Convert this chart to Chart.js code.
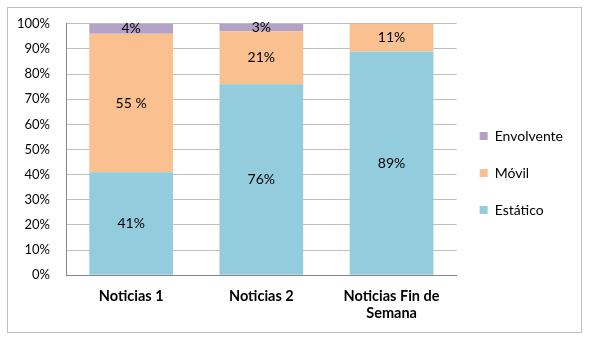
<!DOCTYPE html>
<html>
<head>
<meta charset="utf-8">
<script src="https://cdn.jsdelivr.net/npm/chart.js@4"></script>
<style>
  html, body { margin: 0; padding: 0; background: #fff; }
  #wrap { width: 590px; height: 340px; }
</style>
</head>
<body>
<div id="wrap"><canvas id="tipoGraficoChart" width="590" height="340"></canvas></div>
<script>
const categories = ["Noticias 1", "Noticias 2", ["Noticias Fin de", "Semana"]];
const estatico = [41, 76, 89];
const movil = [55, 21, 11];
const envolvente = [4, 3, 0];
const estaticoLabels = ["41%", "76%", "89%"];
const movilLabels = ["55 %", "21%", "11%"];
const envolventeLabels = ["4%", "3%", ""];
const yTicks = [0, 10, 20, 30, 40, 50, 60, 70, 80, 90, 100];

const fontFamily = "Lato, 'Open Sans', sans-serif";

// marco exterior del grafico
const framePlugin = {
    id: 'frame',
    beforeDraw(chart) {
        const ctx = chart.ctx;
        ctx.save();
        ctx.fillStyle = '#fff';
        ctx.fillRect(0, 0, chart.width, chart.height);
        ctx.strokeStyle = '#BFBFBF';
        ctx.lineWidth = 1;
        ctx.strokeRect(7.5, 7.5, 574, 325);
        ctx.restore();
    }
};

// etiquetas de valor en el centro de cada segmento
const valueLabelPlugin = {
    id: 'valueLabels',
    afterDatasetsDraw(chart) {
        const ctx = chart.ctx;
        ctx.save();
        ctx.font = '14px ' + fontFamily;
        ctx.fillStyle = '#000';
        ctx.textAlign = 'center';
        ctx.textBaseline = 'middle';
        chart.data.datasets.forEach((ds, i) => {
            const meta = chart.getDatasetMeta(i);
            meta.data.forEach((bar, j) => {
                const text = ds.valueLabels[j];
                if (!text) return;
                const yMid = (bar.y + bar.base) / 2;
                ctx.fillText(text, bar.x, yMid);
            });
        });
        ctx.restore();
    }
};

const context = document.getElementById('tipoGraficoChart').getContext('2d');
new Chart(context, {
    type: 'bar',
    data: {
        labels: categories,
        datasets: [
            { label: 'Estático', data: estatico, valueLabels: estaticoLabels, backgroundColor: '#93CDDD' },
            { label: 'Móvil', data: movil, valueLabels: movilLabels, backgroundColor: '#FAC090' },
            { label: 'Envolvente', data: envolvente, valueLabels: envolventeLabels, backgroundColor: '#B3A2C7' }
        ]
    },
    options: {
        responsive: false,
        animation: false,
        layout: { padding: { top: 20, left: 1, right: 17, bottom: 14 } },
        datasets: {
            bar: { categoryPercentage: 1, barPercentage: 0.643, borderWidth: 0 }
        },
        scales: {
            x: {
                stacked: true,
                grid: { display: false },
                border: { color: '#868686' },
                ticks: {
                    color: '#000',
                    padding: 4,
                    maxRotation: 0,
                    font: { family: fontFamily, size: 14.5, weight: 'bold' }
                }
            },
            y: {
                stacked: true,
                min: 0,
                max: 100,
                afterBuildTicks: axis => { axis.ticks = yTicks.map(v => ({ value: v })); },
                grid: { color: '#BFBFBF', drawTicks: false },
                border: { color: '#868686' },
                ticks: {
                    color: '#000',
                    padding: 16,
                    font: { family: fontFamily, size: 13 },
                    callback: v => v + '%'
                }
            }
        },
        plugins: {
            tooltip: { enabled: false },
            legend: {
                position: 'right',
                reverse: true,
                labels: {
                    boxWidth: 8,
                    boxHeight: 8,
                    padding: 23,
                    color: '#000',
                    font: { family: fontFamily, size: 14 }
                }
            }
        }
    },
    plugins: [framePlugin, valueLabelPlugin]
});
</script>
</body>
</html>
